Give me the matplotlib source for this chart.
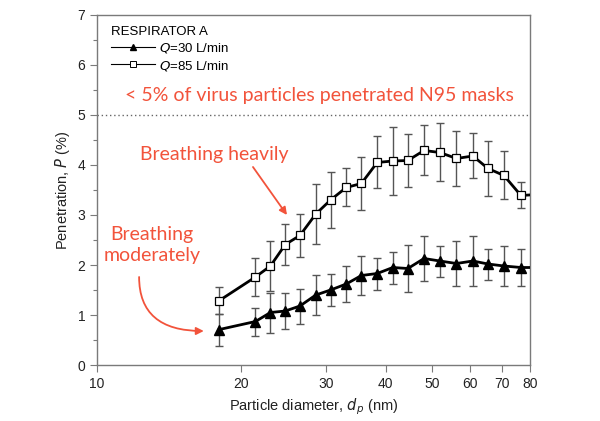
import matplotlib
matplotlib.use('Agg')
import matplotlib.pyplot as plt
from matplotlib.lines import Line2D
from matplotlib.ticker import FixedLocator, NullLocator, MultipleLocator

# particle diameter (nm)
d_p = [18.0, 21.4, 23.0, 24.7, 26.5, 28.6, 30.7, 33.1, 35.6, 38.4,
       41.4, 44.5, 48.1, 51.9, 56.2, 60.8, 65.4, 70.6, 76.6, 82.7]

# Q=30 L/min (filled triangles)
p30 = [0.71, 0.87, 1.05, 1.08, 1.18, 1.40, 1.50, 1.62, 1.79, 1.83,
       1.95, 1.93, 2.13, 2.08, 2.03, 2.08, 2.02, 1.98, 1.95, 1.95]
err30 = [0.32, 0.28, 0.40, 0.36, 0.35, 0.40, 0.32, 0.36, 0.39, 0.32,
         0.32, 0.47, 0.45, 0.31, 0.45, 0.49, 0.31, 0.40, 0.37, 0.37]

# Q=85 L/min (open squares)
p85 = [1.29, 1.76, 1.98, 2.41, 2.59, 3.02, 3.30, 3.55, 3.63, 4.05,
       4.08, 4.09, 4.29, 4.25, 4.13, 4.18, 3.93, 3.79, 3.39, 3.41]
err85 = [0.27, 0.38, 0.50, 0.40, 0.43, 0.60, 0.56, 0.38, 0.53, 0.52,
         0.68, 0.53, 0.50, 0.58, 0.55, 0.45, 0.55, 0.48, 0.26, 0.30]

x_ticks = [10, 20, 30, 40, 50, 60, 70, 80]
limit = 5

red = '#f2533b'
frame = '#7a7a7a'
plt.rcParams['font.family'] = ['Liberation Sans', 'DejaVu Sans']
red_font = ['Lato', 'DejaVu Sans']

fig = plt.figure(figsize=(6, 4.21), dpi=100)
ax = fig.add_axes([0.1617, 0.133, 0.7216, 0.8314])

ax.errorbar(d_p, p85, yerr=err85, fmt='none', ecolor='#555555',
            elinewidth=1.0, capsize=3, capthick=1.0, zorder=2)
ax.errorbar(d_p, p30, yerr=err30, fmt='none', ecolor='#555555',
            elinewidth=1.0, capsize=3, capthick=1.0, zorder=2)
ax.plot(d_p, p85, color='black', lw=2, marker='s', ms=6,
        mfc='white', mec='black', mew=0.9, zorder=3)
ax.plot(d_p, p30, color='black', lw=2, marker='^', ms=7,
        mfc='black', mec='black', zorder=3)

ax.axhline(limit, color='#666666', lw=1, ls=(0, (1, 2)), zorder=1)

ax.set_xscale('log')
ax.set_xlim(10, 80)
ax.set_ylim(0, 7)
ax.xaxis.set_major_locator(FixedLocator(x_ticks))
ax.xaxis.set_minor_locator(NullLocator())
ax.set_xticklabels([str(t) for t in x_ticks])
ax.yaxis.set_major_locator(MultipleLocator(1))
ax.yaxis.set_minor_locator(MultipleLocator(0.5))
ax.tick_params(axis='both', which='major', direction='out', length=5,
               width=0.8, color=frame, labelsize=10, labelcolor='#222222')
ax.tick_params(axis='y', which='minor', direction='out', length=3,
               width=0.8, color=frame)
for s in ax.spines.values():
    s.set_color(frame)
    s.set_linewidth(1.0)

ax.set_xlabel('Particle diameter, $d_p$ (nm)', fontsize=10.5, color='#222222')
ax.set_ylabel('Penetration, $P$ (%)', fontsize=10.5, color='#222222')

# legend
handles = [Line2D([], [], color='black', lw=0.8, marker='^', ms=5, mfc='black'),
           Line2D([], [], color='black', lw=0.8, marker='s', ms=4.5, mfc='white', mew=0.7)]
leg = ax.legend(handles, ['$Q$=30 L/min', '$Q$=85 L/min'], title='RESPIRATOR A',
                loc='upper left', bbox_to_anchor=(0.01, 0.995), frameon=False,
                fontsize=9.5, title_fontsize=9.5, handlelength=3.4,
                handletextpad=0.3, labelspacing=0.25, borderaxespad=0.3)
leg._legend_box.align = 'left'

# annotations
fig.text(0.532, 0.772, '< 5% of virus particles penetrated N95 masks',
         ha='center', va='center', color=red, fontsize=14, family=red_font)
fig.text(0.357, 0.632, 'Breathing heavily', ha='center', va='center',
         color=red, fontsize=14, family=red_font)
ax.annotate('', xy=(24.9, 3.0), xytext=(21.15, 3.96),
            arrowprops=dict(arrowstyle='-|>', color=red, lw=1.3,
                            mutation_scale=11, shrinkA=0, shrinkB=0))
fig.text(0.253, 0.418, 'Breathing\nmoderately', ha='center', va='center',
         color=red, fontsize=14, linespacing=1.35, family=red_font)
ax.annotate('', xy=(16.7, 0.68), xytext=(12.24, 1.76),
            arrowprops=dict(arrowstyle='-|>', color=red, lw=1.3,
                            mutation_scale=11, shrinkA=0, shrinkB=0,
                            connectionstyle='angle3,angleA=90,angleB=0'))

plt.savefig('out.png', dpi=100)
